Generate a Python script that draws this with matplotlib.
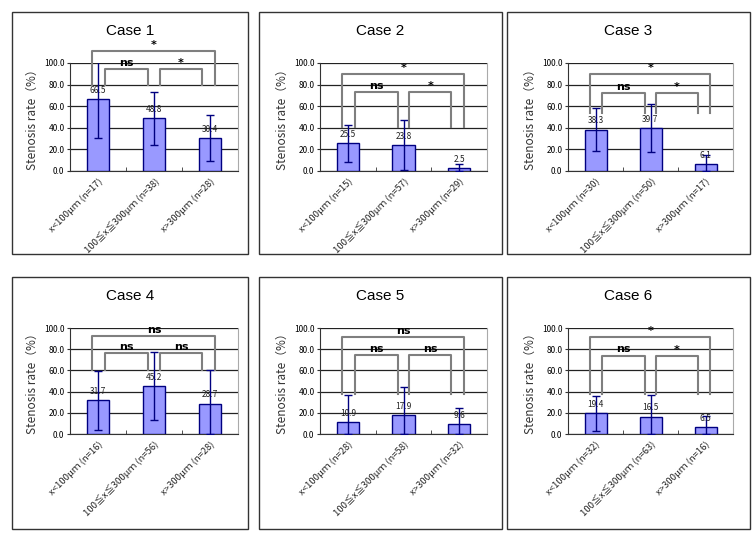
import matplotlib
matplotlib.use("Agg")
import matplotlib.pyplot as plt
from matplotlib.patches import Rectangle

plt.rcParams['font.family'] = ['Noto Sans CJK JP', 'DejaVu Sans']

W, H = 754, 540

cases = ["Case 1", "Case 2", "Case 3", "Case 4", "Case 5", "Case 6"]
means = [
    [66.5, 48.8, 30.4],
    [25.5, 23.8, 2.5],
    [38.3, 39.7, 6.1],
    [31.7, 45.2, 28.7],
    [10.9, 17.9, 9.6],
    [19.4, 16.5, 6.5],
]
sds = [
    [35.7, 24.7, 21.6],
    [17.0, 23.2, 4.4],
    [19.8, 22.2, 9.0],
    [28.0, 32.2, 32.0],
    [25.5, 26.1, 15.4],
    [16.5, 20.4, 10.5],
]
counts = [
    [17, 38, 28],
    [15, 57, 29],
    [30, 50, 17],
    [16, 56, 28],
    [28, 58, 32],
    [32, 63, 16],
]
# significance labels: (x<100 vs x>300, x<100 vs mid, mid vs x>300)
sig = [
    ["*", "ns", "*"],
    ["*", "ns", "*"],
    ["*", "ns", "*"],
    ["ns", "ns", "ns"],
    ["ns", "ns", "ns"],
    ["*", "ns", "*"],
]
# bracket heights (data units): big top, big leg end, small top, small leg end
bracket_y = [
    [111.0, 80.0, 94.5, 80.0],
    [90.0, 41.0, 73.3, 41.0],
    [90.0, 53.6, 72.2, 53.6],
    [92.8, 60.7, 76.4, 60.7],
    [91.5, 37.7, 74.5, 37.7],
    [91.6, 37.5, 74.0, 37.5],
]
yticks = [0, 20, 40, 60, 80, 100]


def cat_labels(n):
    return [f"x<100μｍ (n={n[0]})",
            f"100≦x≦300μｍ (n={n[1]})",
            f"x>300μｍ (n={n[2]})"]


fig = plt.figure(figsize=(W / 100, H / 100), dpi=100)

box_cols = [(12, 248), (259, 502), (507, 750)]
box_rows = [(12, 254), (277, 529)]
ax_cols = [(70, 238), (320, 487), (568, 733)]
ax_rows = [(63, 171), (328, 434)]
title_y = [31, 296]

bar_face = "#9999FF"
bar_edge = "#000080"
grey = "#7f7f7f"

for i in range(6):
    r, c = divmod(i, 3)
    bx0, bx1 = box_cols[c]
    by0, by1 = box_rows[r]
    fig.patches.append(Rectangle((bx0 / W, 1 - by1 / H), (bx1 - bx0) / W, (by1 - by0) / H,
                                 transform=fig.transFigure, fill=False,
                                 edgecolor="#333333", linewidth=1.0))
    fig.text((bx0 + bx1) / 2 / W, 1 - title_y[r] / H, cases[i],
             ha="center", va="center", fontsize=11, family="Liberation Sans")

    x0, x1 = ax_cols[c]
    y0, y1 = ax_rows[r]
    ax = fig.add_axes([x0 / W, 1 - y1 / H, (x1 - x0) / W, (y1 - y0) / H])

    m = means[i]
    s = sds[i]
    lower = [min(sv, mv) for sv, mv in zip(s, m)]
    xs = [0, 1, 2]
    ax.bar(xs, m, width=0.4, color=bar_face, edgecolor=bar_edge, linewidth=1.0, zorder=3)
    ax.errorbar(xs, m, yerr=[lower, s], fmt="none", ecolor=bar_edge, elinewidth=1.0,
                capsize=3, capthick=1.0, zorder=4)
    for xv, mv in zip(xs, m):
        ax.annotate(f"{mv:.1f}", (xv, mv), xytext=(0, 3), textcoords="offset points",
                    ha="center", va="bottom", fontsize=6, color="#222222", zorder=5)

    ax.set_xlim(-0.5, 2.5)
    ax.set_ylim(0, 100)
    ax.set_yticks(yticks)
    ax.set_yticklabels([f"{v:.1f}" for v in yticks], fontsize=6)
    ax.yaxis.grid(True, color="#222222", linewidth=0.9, zorder=0)
    ax.set_axisbelow(True)
    ax.set_xticks(xs)
    ax.set_xticklabels(cat_labels(counts[i]), rotation=45, ha="right",
                       rotation_mode="anchor", fontsize=6.8, color="#222222")
    ax.tick_params(axis="x", length=0, pad=4)
    ax.set_xticks([0.5, 1.5], minor=True)
    ax.tick_params(axis="x", which="minor", direction="in", length=3, color="#333333")
    ax.tick_params(axis="y", direction="out", length=2, pad=2, color="#333333")
    ax.spines["top"].set_visible(False)
    ax.spines["right"].set_color("#aaaaaa")
    ax.spines["left"].set_color("#333333")
    ax.spines["bottom"].set_color("#333333")
    ax.set_ylabel("Stenosis rate（%）", fontsize=8.5, color="#333333", labelpad=4)

    # brackets
    bt, bl, st, sl = bracket_y[i]
    lab = sig[i]
    kw = dict(color=grey, linewidth=1.5, clip_on=False, zorder=6)
    ax.plot([-0.1, -0.1, 2.09, 2.09], [bl, bt, bt, bl], **kw)
    ax.plot([0.12, 0.12, 0.9, 0.9], [sl, st, st, sl], **kw)
    ax.plot([1.1, 1.1, 1.86, 1.86], [sl, st, st, sl], **kw)
    tkw = dict(ha="center", va="bottom", fontsize=8, fontweight="bold",
               family="DejaVu Sans", clip_on=False, zorder=7)
    ax.text(1.0, bt + 1, lab[0], **tkw)
    ax.text(0.51, st + 1, lab[1], **tkw)
    ax.text(1.48, st + 1, lab[2], **tkw)

fig.savefig("out.png", dpi=100)
